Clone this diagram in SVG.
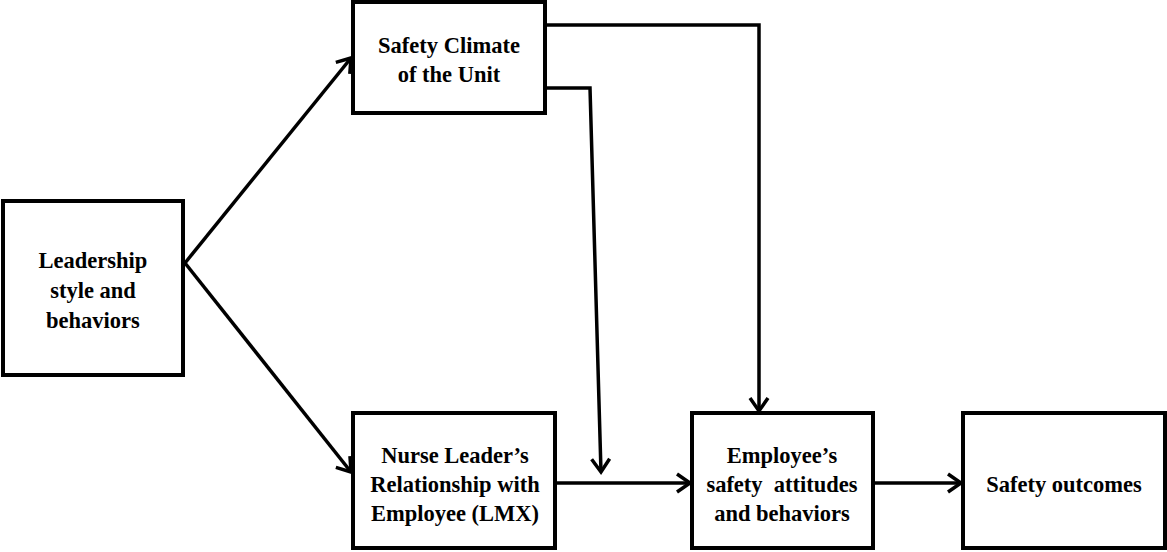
<svg xmlns="http://www.w3.org/2000/svg" width="1167" height="552" viewBox="0 0 1167 552">
<style>
.box{fill:#fff;stroke:#000;stroke-width:4}
.lbl{font-family:"Liberation Serif",serif;font-weight:bold;font-size:22.5px;text-anchor:middle;fill:#000}
.con{fill:none;stroke:#000;stroke-width:3.5;marker-end:url(#ah)}
</style>
<defs>
<marker id="ah" markerUnits="userSpaceOnUse" markerWidth="24" markerHeight="24" viewBox="-16 -12 19 24" refX="0" refY="0" orient="auto">
<path d="M-13,-9 L0,0 L-13,9" fill="none" stroke="#000" stroke-width="3.5"/>
</marker>
</defs>
<g id="connectors">
<path class="con" d="M185,263 L351,58"/>
<path class="con" d="M185,263 L351,472"/>
<path class="con" d="M545,25 L759,25 L759,411"/>
<path class="con" d="M545,88 L590,88 L601,472"/>
<path class="con" d="M555,483 L690,483"/>
<path class="con" d="M873,483 L961,483"/>
</g>
<g id="leadership">
<rect class="box" x="3" y="201" width="180" height="174"/>
<text class="lbl" x="93" y="268">Leadership</text>
<text class="lbl" x="93" y="298">style and</text>
<text class="lbl" x="93" y="328">behaviors</text>
</g>
<g id="climate">
<rect class="box" x="353" y="2" width="192" height="111"/>
<text class="lbl" x="449" y="53">Safety Climate</text>
<text class="lbl" x="449" y="82">of the Unit</text>
</g>
<g id="lmx">
<rect class="box" x="353" y="413" width="202" height="135"/>
<text class="lbl" x="455" y="463">Nurse Leader’s</text>
<text class="lbl" x="455" y="492">Relationship with</text>
<text class="lbl" x="455" y="521">Employee (LMX)</text>
</g>
<g id="employee">
<rect class="box" x="692" y="413" width="181" height="135"/>
<text class="lbl" x="782" y="463">Employee’s</text>
<text class="lbl" x="782" y="492" xml:space="preserve">safety  attitudes</text>
<text class="lbl" x="782" y="521">and behaviors</text>
</g>
<g id="outcomes">
<rect class="box" x="963" y="413" width="202" height="135"/>
<text class="lbl" x="1064" y="492">Safety outcomes</text>
</g>
</svg>
